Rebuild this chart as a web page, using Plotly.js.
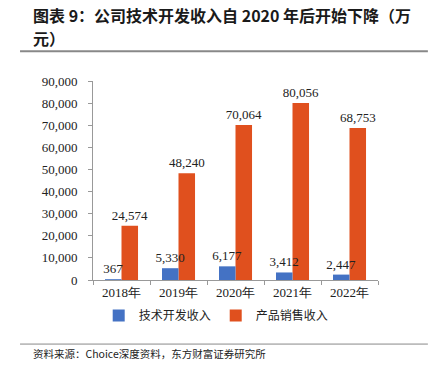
<!DOCTYPE html>
<html><head><meta charset="utf-8">
<script src="https://cdn.plot.ly/plotly-3.0.1.min.js"></script>
<style>body{margin:0;background:#fff}#c{width:435px;height:375px}</style>
</head><body><div id="c"></div>
<script>
var years = ['2018年','2019年','2020年','2021年','2022年'];
var techDev = [367, 5330, 6177, 3412, 2447];
var sales = [24574, 48240, 70064, 80056, 68753];
var seriesNames = ['技术开发收入','产品销售收入'];
var yTicks = [0,10000,20000,30000,40000,50000,60000,70000,80000,90000];

function fmt(v){return v.toLocaleString('en-US');}
var serif = 'Liberation Serif, Times New Roman, serif';
var cjk = 'Noto Sans CJK SC, sans-serif';
var bw = 0.29;

var traces = [
  {type:'bar', x:years, y:sales, name:seriesNames[1], marker:{color:'#E0501E'},
   width:bw, offset:0,
   text:sales.map(fmt), textposition:'outside', cliponaxis:false, constraintext:'none',
   textfont:{family:serif,size:13,color:'#222'}},
  {type:'bar', x:years, y:techDev, name:seriesNames[0], marker:{color:'#4472C4'},
   width:bw, offset:-bw,
   text:techDev.map(fmt), textposition:'outside', cliponaxis:false, constraintext:'none',
   textfont:{family:serif,size:13,color:'#222'}}
];
var layout = {
  width:435, height:375,
  margin:{l:93, r:57, t:81, b:95},
  paper_bgcolor:'#fff', plot_bgcolor:'#fff',
  barmode:'overlay',
  showlegend:true,
  legend:{orientation:'h', x:0.02, xanchor:'left', y:-0.105, yanchor:'top', itemwidth:30,
    font:{family:cjk,size:12,color:'#222'}, traceorder:'reversed'},
  xaxis:{type:'category', showline:true, linecolor:'#999', linewidth:1,
    ticks:'outside', ticklen:4, tickcolor:'#999', tickson:'boundaries',
    tickfont:{family:serif,size:13,color:'#222'}, showgrid:false},
  yaxis:{range:[0,90000], tickvals:yTicks, ticktext:yTicks.map(fmt),
    showline:true, linecolor:'#999', linewidth:1, ticks:'outside', ticklen:4, tickcolor:'#999',
    tickfont:{family:serif,size:13,color:'#222'}, showgrid:false, zeroline:false,
    ticklabelstandoff:8},
  annotations:[
    {xref:'paper', yref:'paper', x:-0.218, y:1.332, xanchor:'left', yanchor:'middle', align:'left',
     showarrow:false, text:'<b>图表 9：公司技术开发收入自 2020 年后开始下降（万</b>',
     font:{family:cjk, size:16, color:'#1a1a1a'}},
    {xref:'paper', yref:'paper', x:-0.218, y:1.216, xanchor:'left', yanchor:'middle', align:'left',
     showarrow:false, text:'<b>元）</b>',
     font:{family:cjk, size:16, color:'#1a1a1a'}},
    {xref:'paper', yref:'paper', x:-0.218, y:-0.37, xanchor:'left', yanchor:'middle', align:'left',
     showarrow:false, text:'资料来源：Choice深度资料，东方财富证券研究所',
     font:{family:cjk, size:10.5, color:'#222'}}
  ],
  shapes:[
    {type:'line', xref:'paper', yref:'paper', x0:-0.256, x1:1.175, y0:1.15, y1:1.15, line:{color:'#888',width:2}},
    {type:'line', xref:'paper', yref:'paper', x0:-0.256, x1:1.175, y0:-0.322, y1:-0.322, line:{color:'#888',width:1}}
  ]
};
Plotly.newPlot('c', traces, layout, {displayModeBar:false, staticPlot:true});
</script></body></html>
